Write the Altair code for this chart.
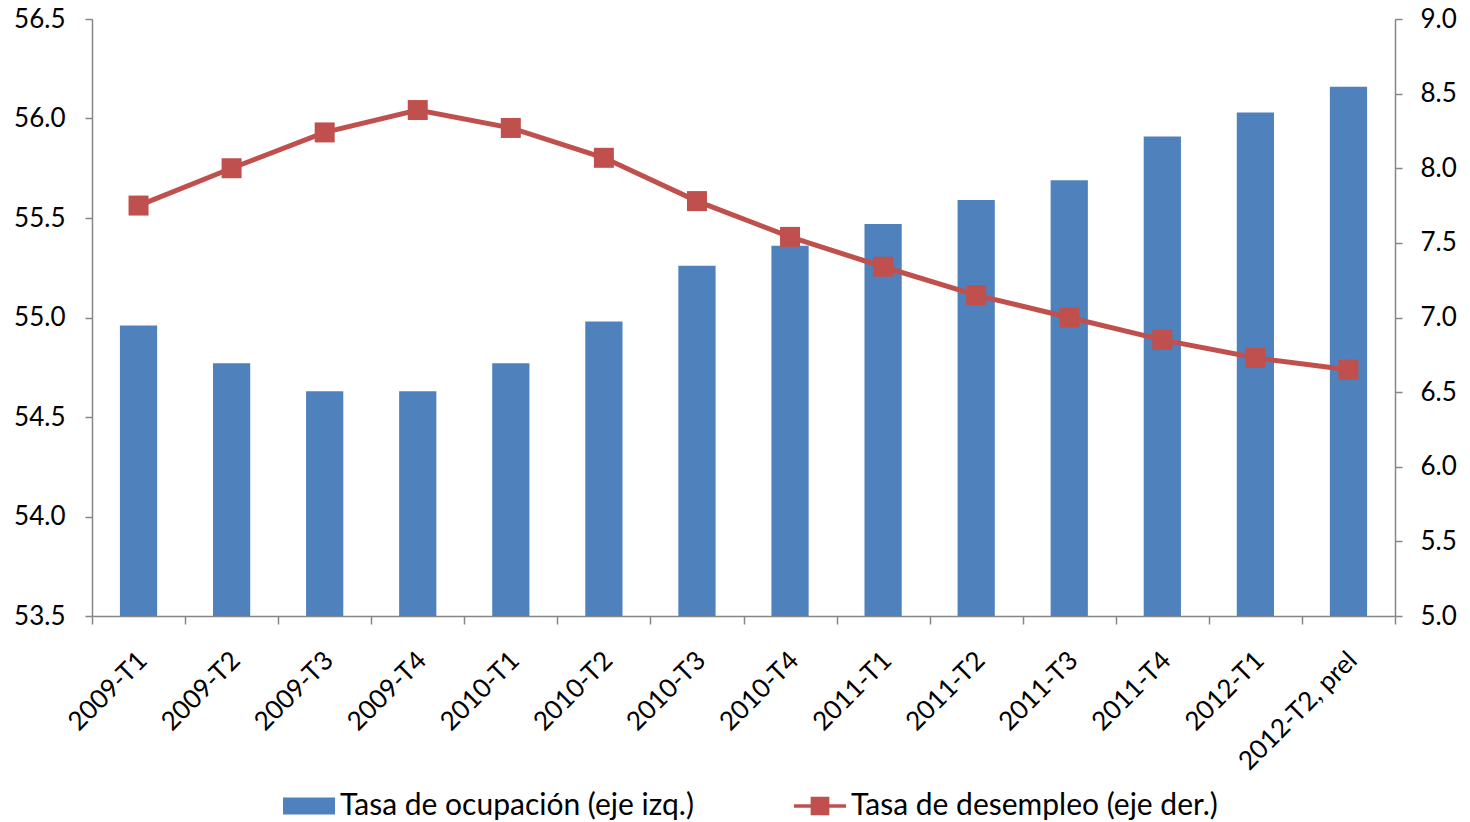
import altair as alt
import pandas as pd

periodos = ["2009-T1", "2009-T2", "2009-T3", "2009-T4", "2010-T1", "2010-T2", "2010-T3",
            "2010-T4", "2011-T1", "2011-T2", "2011-T3", "2011-T4", "2012-T1", "2012-T2, prel"]
ocupacion = [54.96, 54.77, 54.63, 54.63, 54.77, 54.98, 55.26,
             55.36, 55.47, 55.59, 55.69, 55.91, 56.03, 56.16]
desempleo = [7.75, 8.00, 8.24, 8.39, 8.27, 8.07, 7.78,
             7.54, 7.34, 7.15, 7.00, 6.85, 6.73, 6.65]
serie_ocup = "Tasa de ocupación (eje izq.)"
serie_desemp = "Tasa de desempleo (eje der.)"

ticks_izq = [53.5, 54.0, 54.5, 55.0, 55.5, 56.0, 56.5]
ticks_der = [5.0, 5.5, 6.0, 6.5, 7.0, 7.5, 8.0, 8.5, 9.0]

AZUL = "#4F81BD"
ROJO = "#C0504D"
GRIS = "#868686"
FONT = "Lato"
FS = 26

df = pd.DataFrame({"periodo": periodos, "ocupacion": ocupacion, "desempleo": desempleo,
                   "serie": [serie_desemp] * len(periodos)})

x_enc = alt.X("periodo:N", sort=periodos, title=None,
              scale=alt.Scale(paddingInner=0, paddingOuter=0),
              axis=alt.Axis(labelAngle=-45, labelAlign="right", labelBaseline="middle",
                            labelPadding=32, labelOffset=4, tickBand="extent",
                            labelOverlap=False, labelFlush=False,
                            tickSize=8, tickColor=GRIS, domainColor=GRIS,
                            domainWidth=1.5, tickWidth=1.5,
                            labelFont=FONT, labelFontSize=FS, labelColor="black",
                            grid=False))

eje_der = alt.Axis(orient="right", values=ticks_der, format=".1f", grid=False,
                   tickSize=7, tickColor=GRIS, domainColor=GRIS, domainWidth=1.5,
                   tickWidth=1.5, labelPadding=18, labelFont=FONT, labelFontSize=FS,
                   labelColor="black", title=None)
escala_der = alt.Scale(domain=[5.0, 9.0], nice=False, zero=False)

barras = alt.Chart(df).mark_bar(color=AZUL, width=alt.RelativeBandSize(0.4), clip=True).encode(
    x=x_enc,
    y=alt.Y("ocupacion:Q", title=None,
            scale=alt.Scale(domain=[53.5, 56.5], nice=False, zero=False),
            axis=alt.Axis(orient="left", values=ticks_izq, format=".1f", grid=False,
                          tickSize=7, tickColor=GRIS, domainColor=GRIS, domainWidth=1.5,
                          tickWidth=1.5, labelPadding=20, labelFont=FONT, labelFontSize=FS,
                          labelColor="black")),
)

linea = alt.Chart(df).mark_line(color=ROJO, strokeWidth=5).encode(
    x=alt.X("periodo:N", sort=periodos),
    y=alt.Y("desempleo:Q", title=None, scale=escala_der, axis=eje_der),
)

puntos = alt.Chart(df).mark_point(shape="square", filled=True, color=ROJO, size=400,
                                  opacity=1).encode(
    x=alt.X("periodo:N", sort=periodos),
    y=alt.Y("desempleo:Q", title=None, scale=escala_der, axis=eje_der),
)

path_barra = "M-1,-0.33H1V0.33H-1Z"
path_linea = "M-1,-0.07H-0.36V-0.36H0.36V-0.07H1V0.07H0.36V0.36H-0.36V0.07H-1Z"

props_leyenda = dict(title=None, orient="none", direction="horizontal",
                     legendX=191, legendY=761, symbolSize=2704,
                     symbolOpacity=1, symbolStrokeWidth=0,
                     labelFont=FONT, labelFontSize=30, labelColor="black",
                     labelLimit=700, labelOffset=5, columnPadding=100, padding=0)

leyenda = alt.Chart(df).mark_point(filled=True, opacity=0).encode(
    x=alt.X("periodo:N", sort=periodos),
    y=alt.Y("desempleo:Q", title=None, scale=escala_der, axis=eje_der),
    color=alt.Color("serie:N", scale=alt.Scale(domain=[serie_ocup, serie_desemp],
                                                range=[AZUL, ROJO]),
                    legend=alt.Legend(**props_leyenda)),
    shape=alt.Shape("serie:N", scale=alt.Scale(domain=[serie_ocup, serie_desemp],
                                                range=[path_barra, path_linea]),
                    legend=alt.Legend(**props_leyenda)),
)

derecha = alt.layer(linea, puntos, leyenda)

chart = alt.layer(barras, derecha).resolve_scale(y="independent").properties(
    width=1303, height=597,
    autosize=alt.AutoSizeParams(type="none"),
    padding={"left": 84, "top": 11, "right": 67, "bottom": 214},
    background="white",
).configure_view(stroke=None)

chart.save("out.html", embed_options={"renderer": "svg", "actions": False})
